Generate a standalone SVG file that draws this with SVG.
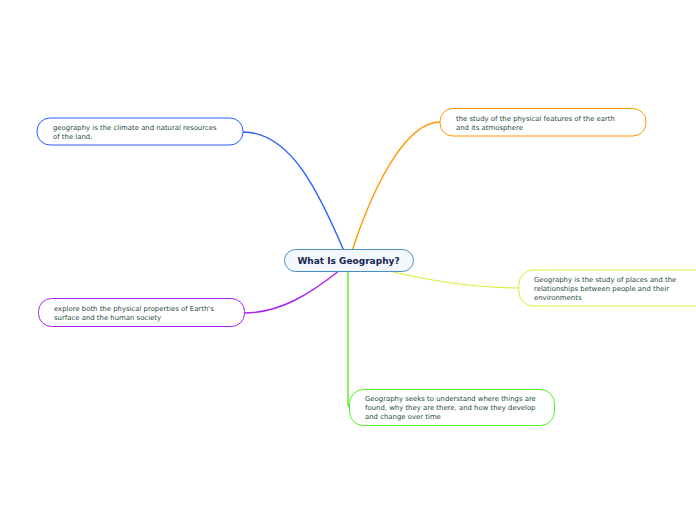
<svg xmlns="http://www.w3.org/2000/svg" width="696" height="520" viewBox="0 0 696 520">
<style>
.t{font-family:"DejaVu Sans",Verdana,sans-serif;font-size:6.9px;fill:#2a4a40}
.c{fill:none;stroke-linecap:round}
.n{fill:#ffffff;stroke-width:1}
</style>
<rect width="696" height="520" fill="#ffffff"/>
<g id="connectors">
<path class="c" d="M243,132 C290,132 318,190 344,251" stroke="#2a5cff" stroke-width="1.4"/>
<path class="c" d="M352,251 C378,172 410,122 440,122" stroke="#ff9900" stroke-width="1.4"/>
<path class="c" d="M340,270 C310,294 280,313 244,313" stroke="#aa22ee" stroke-width="1.4"/>
<path class="c" d="M385,270 C430,281 480,288 519,288" stroke="#ccf53a" stroke-width="1.2"/>
<path class="c" d="M348,272 L348,402 Q348,408 352,408" stroke="#55ee22" stroke-width="1.4"/>
</g>
<g id="center">
<rect x="284.5" y="249.5" width="129" height="22" rx="11" fill="#f2f8fd" stroke="#4a90c8" stroke-width="1"/>
<text x="348.5" y="264" text-anchor="middle" style="font-family:'DejaVu Sans',Verdana,sans-serif;font-size:9px;font-weight:bold;fill:#14244e">What Is Geography?</text>
</g>
<g id="n1">
<rect class="n" x="37" y="118" width="206" height="27" rx="13" stroke="#2a5cff"/>
<text class="t" x="53" y="130">geography is the climate and natural resources</text>
<text class="t" x="53" y="139">of the land.</text>
</g>
<g id="n2">
<rect class="n" x="440" y="108.5" width="206" height="27.5" rx="13" stroke="#ff9900"/>
<text class="t" x="456" y="121">the study of the physical features of the earth</text>
<text class="t" x="456" y="130">and its atmosphere</text>
</g>
<g id="n3">
<rect class="n" x="38.5" y="298.5" width="206" height="28" rx="13" stroke="#aa22ee"/>
<text class="t" x="54" y="311">explore both the physical properties of Earth's</text>
<text class="t" x="54" y="320">surface and the human society</text>
</g>
<g id="n4">
<rect class="n" x="519" y="270" width="200" height="36" rx="14" stroke="#ccf53a"/>
<text class="t" x="534" y="282">Geography is the study of places and the</text>
<text class="t" x="534" y="291">relationships between people and their</text>
<text class="t" x="534" y="300">environments</text>
</g>
<g id="n5">
<rect class="n" x="349.5" y="389.5" width="205" height="36" rx="14" stroke="#55ee22"/>
<text class="t" x="365" y="401">Geography seeks to understand where things are</text>
<text class="t" x="365" y="410">found, why they are there, and how they develop</text>
<text class="t" x="365" y="419">and change over time</text>
</g>
</svg>
